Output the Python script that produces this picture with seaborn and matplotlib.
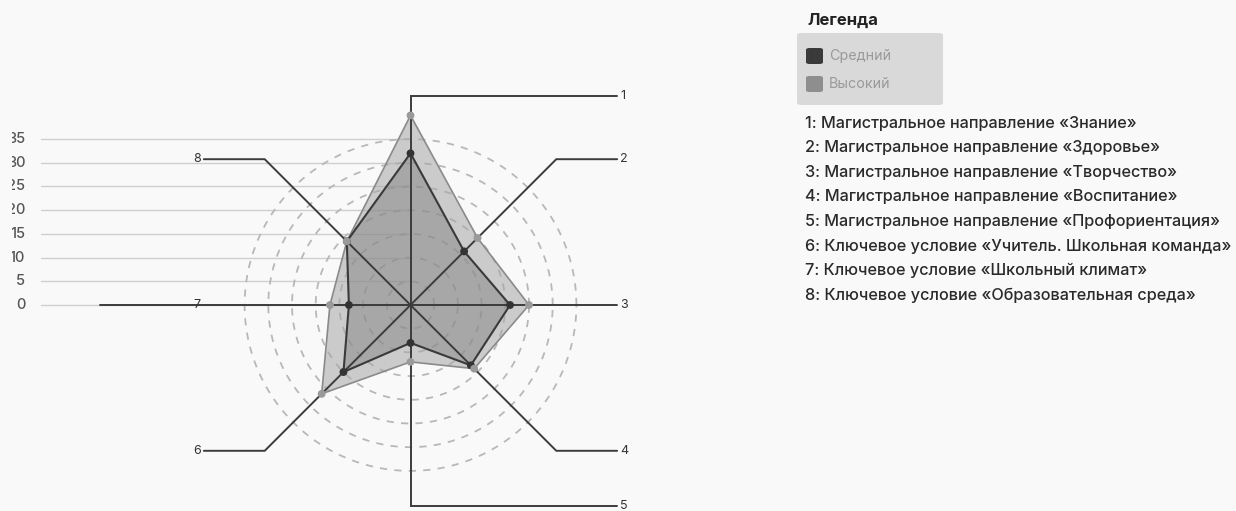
import numpy as np
import pandas as pd
import matplotlib
matplotlib.use("Agg")
import matplotlib.pyplot as plt
import seaborn as sns
from matplotlib.patches import FancyBboxPatch
from matplotlib.transforms import Bbox

# ---------------- data ----------------
axis_ids = ["1", "2", "3", "4", "5", "6", "7", "8"]
axis_names = [
    "Магистральное направление «Знание»",
    "Магистральное направление «Здоровье»",
    "Магистральное направление «Творчество»",
    "Магистральное направление «Воспитание»",
    "Магистральное направление «Профориентация»",
    "Ключевое условие «Учитель. Школьная команда»",
    "Ключевое условие «Школьный климат»",
    "Ключевое условие «Образовательная среда»",
]
series_names = ["Средний", "Высокий"]
medium_values = [32, 16, 21, 18, 8, 20, 13, 19]
high_values = [40, 20, 25, 19, 12, 26.5, 17, 19]
tick_values = [0, 5, 10, 15, 20, 25, 30, 35]
tick_labels = ["0", "5", "10", "15", "20", "25", "30", "35"]

# ---------------- style ----------------
sns.set_theme(style="white")
plt.rcParams["font.family"] = ["Inter", "DejaVu Sans"]

W, H = 1236, 511
cx, cy = 410.5, 305.0          # chart centre in pixels (from top)
ppu = 4.74                     # pixels per value unit

fig = plt.figure(figsize=(W / 100, H / 100), dpi=100)
fig.patch.set_facecolor("#f9f9f9")
ax = fig.add_axes([0, 0, 1, 1])
ax.set_facecolor("#f9f9f9")
ax.set_xlim(-cx / ppu, (W - cx) / ppu)
ax.set_ylim(-(H - cy) / ppu, cy / ppu)
ax.set_aspect("equal")
ax.axis("off")

n = len(axis_ids)
angles = np.pi / 2 - np.arange(n) * 2 * np.pi / n   # clockwise from top

def xy(vals):
    v = np.asarray(vals, dtype=float)
    return v * np.cos(angles), v * np.sin(angles)

# left horizontal grid with (cut-off, as in the scan) tick labels
clip = Bbox.from_extents(12, 0, W, H)
grid_left = -78
for tv, tl in zip(tick_values, tick_labels):
    ax.plot([grid_left, 0], [tv, tv], color="#cfcfcf", lw=1.0, zorder=1)
    txt = ax.text(-81.3, tv, tl, ha="right", va="center", fontsize=10.5,
                  color="#555555", fontweight="medium")
    txt.set_clip_on(True)
    txt.set_clip_box(clip)

# dashed concentric circles
t = np.linspace(0, 2 * np.pi, 400)
for tv in tick_values[1:]:
    ax.plot(tv * np.cos(t), tv * np.sin(t), color="#b8b8b8", lw=1.3,
            ls=(0, (4, 4)), zorder=1)

# polygons
df = pd.DataFrame({
    "axis": axis_ids * 2,
    "series": [series_names[0]] * n + [series_names[1]] * n,
    "value": medium_values + high_values,
})
hx, hy = xy(high_values)
mx, my = xy(medium_values)
ax.fill(hx, hy, color="#a6a6a6", alpha=0.55, lw=0, zorder=2)
ax.fill(mx, my, color="#7c7c7c", alpha=0.45, lw=0, zorder=3)

# spokes with leader lines
R = 43.5
xend = 43.6
for i, a in enumerate(angles):
    ex, ey = R * np.cos(a), R * np.sin(a)
    if abs(np.cos(a)) < 1e-6:
        ex = 0.0
    if abs(np.sin(a)) < 1e-6:
        ey = 0.0
    if i == 0:
        ey = 44.0
    if i == 4:
        ey = -42.3
    side = 1 if i <= 4 else -1
    hend = xend * side
    if i == 6:
        hend = -65.5
    ax.plot([0, ex, hend], [0, ey, ey], color="#3c3c3c", lw=1.4,
            zorder=4, solid_joinstyle="miter", clip_on=False)
    lx = (xend + 0.6) * side
    ax.text(lx, ey, axis_ids[i], ha="left" if side > 0 else "right",
            va="center", fontsize=9, color="#333333", zorder=6)

# outlines
ax.plot(np.append(hx, hx[0]), np.append(hy, hy[0]), color="#8a8a8a",
        lw=1.2, zorder=5)
ax.plot(np.append(mx, mx[0]), np.append(my, my[0]), color="#3a3a3a",
        lw=1.5, zorder=5)

# markers through seaborn
pts = df.copy()
px, py = [], []
for s, vals in zip(series_names, [medium_values, high_values]):
    x_, y_ = xy(vals)
    px.extend(x_)
    py.extend(y_)
pts["x"] = px
pts["y"] = py
sns.scatterplot(data=pts, x="x", y="y", hue="series",
                palette={series_names[0]: "#333333", series_names[1]: "#9a9a9a"},
                hue_order=[series_names[1], series_names[0]],
                s=32, edgecolor="none", legend=False, ax=ax, zorder=6)

# ---------------- legend ----------------
def fx(px_):
    return px_ / W

def fy(py_):
    return 1 - py_ / H

fig.text(fx(807), fy(20), "Легенда", fontsize=12, fontweight="bold",
         color="#222222", va="center", ha="left")
fig.patches.append(FancyBboxPatch((fx(797), fy(105)), fx(943) - fx(797),
                                  fy(33) - fy(105),
                                  boxstyle="round,pad=0,rounding_size=0.004",
                                  transform=fig.transFigure,
                                  facecolor="#d9d9d9", edgecolor="none",
                                  zorder=0))
for j, (name, col) in enumerate(zip(series_names, ["#3a3a3a", "#8e8e8e"])):
    yc = 56 + j * 28
    fig.patches.append(FancyBboxPatch((fx(806), fy(yc + 8)), fx(823) - fx(806),
                                      fy(yc - 8) - fy(yc + 8),
                                      boxstyle="round,pad=0,rounding_size=0.003",
                                      transform=fig.transFigure,
                                      facecolor=col, edgecolor="none", zorder=1))
    fig.text(fx(829), fy(yc), name, fontsize=10.3, color="#9a9a9a",
             va="center", ha="left")

for j, (aid, name) in enumerate(zip(axis_ids, axis_names)):
    fig.text(fx(805), fy(123 + j * 24.6), f"{aid}: {name}", fontsize=11.7,
             color="#2a2a2a", va="center", ha="left", fontweight="medium")

fig.savefig("out.png", dpi=100, facecolor=fig.get_facecolor())
